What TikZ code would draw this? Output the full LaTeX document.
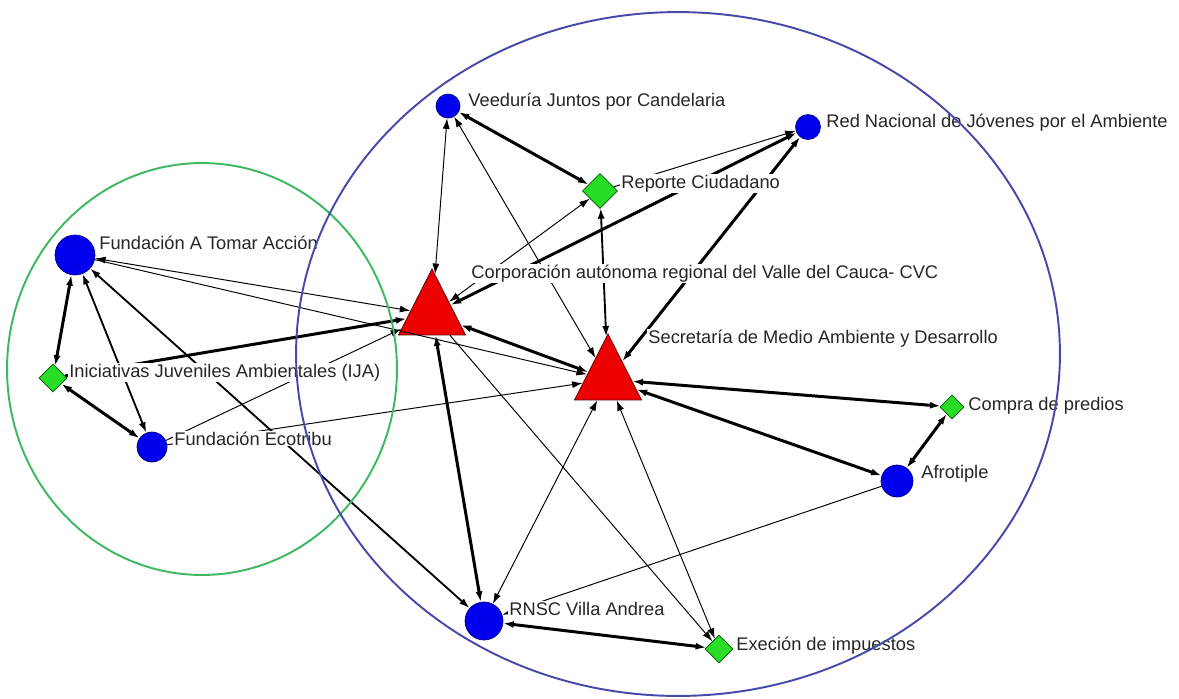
\documentclass[tikz,border=0pt]{standalone}
\usepackage{fontspec}
\setmainfont{Liberation Sans}
\usetikzlibrary{shapes.geometric,arrows.meta}
\definecolor{nodeblue}{RGB}{0,0,238}
\definecolor{nodered}{RGB}{236,0,0}
\definecolor{nodegreen}{RGB}{40,220,40}
\definecolor{ringgreen}{RGB}{60,185,95}
\definecolor{ringblue}{RGB}{72,72,170}
\begin{document}
\begin{tikzpicture}[x=0.02cm,y=-0.02cm,
  >={Latex[length=6pt,width=4pt]},
  actor/.style={circle,fill=nodeblue,draw=nodeblue!55!black,line width=0.4pt,inner sep=0pt,minimum size=#1},
  event/.style={diamond,fill=nodegreen,draw=green!35!black,line width=0.4pt,inner sep=0pt,minimum size=#1},
  org/.style={isosceles triangle,isosceles triangle stretches,shape border rotate=90,fill=nodered,draw=red!35!black,line width=0.4pt,inner sep=0pt,minimum width=1.34cm,minimum height=1.32cm,anchor=apex},
  lab/.style={anchor=base west,fill=white,inner sep=0.6pt,font=\fontsize{10.4}{12}\selectfont,text=black!85},
  wthin/.style={line width=0.55pt},
  wmed/.style={line width=1.05pt},
  wthick/.style={line width=1.7pt},
  ring/.style={line width=1.1pt}]
\useasboundingbox (0,0) rectangle (1179,698);
% nodes
\node[actor=0.8cm] (fat) at (75,255) {};
\node[event=0.56cm] (ija) at (53,378) {};
\node[actor=0.6cm] (eco) at (152,447) {};
\node[org] (cvc) at (432,268) {};
\node[org] (smad) at (608,333) {};
\node[actor=0.48cm] (veed) at (448,106) {};
\node[event=0.7cm] (rep) at (600,191) {};
\node[actor=0.5cm] (red) at (808,127) {};
\node[event=0.48cm] (comp) at (952,407) {};
\node[actor=0.64cm] (afro) at (897,481) {};
\node[actor=0.76cm] (rnsc) at (484,621) {};
\node[event=0.56cm] (exe) at (719,649) {};
% edges
\draw[wthick,<->] (fat) -- (ija);
\draw[wthick,<->] (ija) -- (eco);
\draw[wmed,<->] (fat) -- (eco);
\draw[wthin,<->] (fat) -- (cvc);
\draw[wthin,->] (fat) -- (smad);
\draw[wmed,<->] (fat) -- (rnsc);
\draw[wthick,->] (ija) -- (cvc);
\draw[wthin,->] (eco) -- (cvc);
\draw[wthin,->] (eco) -- (smad);
\draw[wthin,<->] (cvc) -- (veed);
\draw[wthin,<->] (cvc) -- (rep);
\draw[wthick,<->] (cvc) -- (red);
\draw[wthick,<->] (cvc) -- (smad);
\draw[wthick,<->] (cvc) -- (rnsc);
\draw[wthin,->] (cvc) -- (exe);
\draw[wthick,<->] (veed) -- (rep);
\draw[wthin,<->] (veed) -- (smad);
\draw[wmed,<->] (rep) -- (smad);
\draw[wthin,->] (rep) -- (red);
\draw[wthick,<->] (smad) -- (red);
\draw[wthick,<->] (smad) -- (comp);
\draw[wthick,<->] (smad) -- (afro);
\draw[wthin,<->] (smad) -- (rnsc);
\draw[wthin,<->] (smad) -- (exe);
\draw[wthick,<->] (comp) -- (afro);
\draw[wthin,->] (afro) -- (rnsc);
\draw[wthick,<->] (rnsc) -- (exe);
% labels
\node[lab] (lfat) at (98,249) {Fundación A Tomar Acción};
\node[lab] (lija) at (68,377) {Iniciativas Juveniles Ambientales (IJA)};
\node[lab] (leco) at (173,445) {Fundación Ecotribu};
\node[lab] (lcvc) at (470,278) {Corporación autónoma regional del Valle del Cauca- CVC};
\node[lab] (lsmad) at (647,343) {Secretaría de Medio Ambiente y Desarrollo};
\node[lab] (lveed) at (467,106) {Veeduría Juntos por Candelaria};
\node[lab] (lrep) at (620,188) {Reporte Ciudadano};
\node[lab] (lred) at (825,127) {Red Nacional de Jóvenes por el Ambiente};
\node[lab] (lcomp) at (967,410) {Compra de predios};
\node[lab] (lafro) at (920,478) {Afrotiple};
\node[lab] (lrnsc) at (508,615) {RNSC Villa Andrea};
\node[lab] (lexe) at (735,650) {Execión de impuestos};
% group rings
\draw[ring,ringgreen] (202,369) ellipse [x radius=3.9cm, y radius=4.12cm];
\draw[ring,ringblue] (678,354) ellipse [x radius=7.64cm, y radius=6.84cm];
\end{tikzpicture}
\end{document}
